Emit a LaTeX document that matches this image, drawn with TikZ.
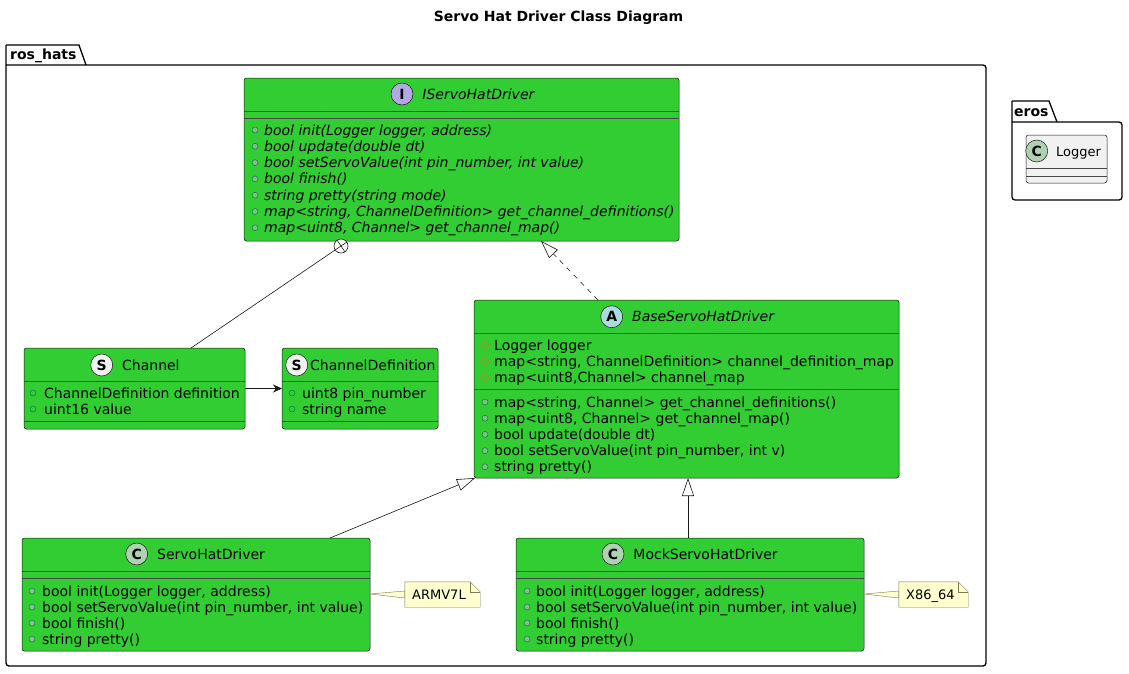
\documentclass[tikz,border=0pt]{standalone}
\usepackage{fontspec}
\setmainfont{DejaVu Sans}
\usetikzlibrary{arrows.meta,shapes.geometric,positioning}

\definecolor{umlgreen}{HTML}{32CD32}
\definecolor{umlline}{HTML}{181818}
\definecolor{loggerfill}{HTML}{F1F1F1}
\definecolor{publine}{HTML}{038048}
\definecolor{pubfill}{HTML}{84BE84}
\definecolor{protline}{HTML}{B38D22}
\definecolor{iconI}{HTML}{B4A7E5}
\definecolor{iconA}{HTML}{A9DCDF}
\definecolor{iconS}{HTML}{F1F1F1}
\definecolor{iconC}{HTML}{ADD1B2}
\definecolor{notefill}{HTML}{FEFECE}
\definecolor{notedraw}{HTML}{7A7A55}

\newcommand{\umlfont}{\fontsize{14}{16}\selectfont}
\newcommand{\notefont}{\fontsize{13}{15}\selectfont}

\begin{document}
\begin{tikzpicture}[x=1pt,y=-1pt,
	classbox/.style={draw=umlline, fill=umlgreen, rounded corners=2.5pt, line width=0.5pt, inner sep=0pt, outer sep=0pt},
	hdr/.style={inner sep=0pt, anchor=west, text height=10pt, text depth=0pt, font=\umlfont},
	mbr/.style={inner sep=0pt, anchor=west, text height=10pt, text depth=0pt, font=\umlfont},
	icon/.style={circle, draw=umlline, line width=0.5pt, minimum size=22pt, inner sep=0pt, font=\umlfont\bfseries},
	pubf/.style={circle, draw=publine, minimum size=6pt, inner sep=0pt, line width=0.5pt},
	pubm/.style={pubf, fill=pubfill},
	protf/.style={diamond, draw=protline, minimum size=9pt, inner sep=0pt, line width=0.6pt},
	sepline/.style={draw=umlline!80, line width=0.45pt},
	pkg/.style={draw=black, line width=1.3pt},
	pkglbl/.style={inner sep=0pt, anchor=west, text height=10pt, text depth=0pt, font=\umlfont\bfseries},
	inherit/.style={umlline, line width=0.6pt, -{Triangle[open, fill=white, length=18pt, width=12pt]}},
	realize/.style={inherit, dash pattern=on 5pt off 5pt},
	navig/.style={umlline, line width=0.6pt, -{Stealth[length=9pt, width=8pt, inset=3pt]}},
	nest/.style={circle, draw=umlline, fill=white, line width=0.6pt, minimum size=14pt, inner sep=0pt},
	notebox/.style={inner sep=0pt, minimum width=#1, minimum height=25pt},
	notelink/.style={draw=notedraw, fill=notefill, line width=0.4pt}]

	\fill[white] (0,0) rectangle (1129,673);
	\useasboundingbox (0,0) rectangle (1129,673);

	\node[inner sep=0pt] (title) at (558.5,18) {\fontsize{14}{16}\selectfont\bfseries Servo Hat Driver Class Diagram};

	% packages
	\draw[pkg] (6,45) -- (79,45) -- (86,65);
	\draw[pkg, rounded corners=3pt] (6,45) -- (6,666) -- (986,666) -- (986,65) -- (6,65);
	\node[pkglbl] (roslbl) at (10,54) {ros\_hats};
	\draw[pkg] (1012,101) -- (1049,101) -- (1057,122);
	\draw[pkg, rounded corners=3pt] (1012,101) -- (1012,200) -- (1122,200) -- (1122,122) -- (1012,122);
	\node[pkglbl] (eroslbl) at (1014,111) {eros};

	% IServoHatDriver
	\node[classbox, minimum width=435pt, minimum height=163pt] (isd) at (461.5,159.5) {};
	\node[icon, fill=iconI] (isdicon) at (402,94) {I};
	\node[hdr, font=\umlfont\itshape, right=9pt of isdicon] (isdname) {IServoHatDriver};
	\draw[sepline] (isd.west |- 0,111) -- (isd.east |- 0,111);
	\draw[sepline] (isd.west |- 0,118) -- (isd.east |- 0,118);
	\foreach \m [count=\k from 0] in {{bool init(Logger logger, address)},{bool update(double dt)},{bool setServoValue(int pin\_number, int value)},{bool finish()},{string pretty(string mode)},{map<string, ChannelDefinition> get\_channel\_definitions()},{map<uint8, Channel> get\_channel\_map()}}{
		\node[pubm] (isdv\k) at (255,130+16.3*\k) {};
		\node[mbr, font=\umlfont\itshape] (isdm\k) at (264,130+16.3*\k) {\m};
	}

	% Channel
	\node[classbox, minimum width=221pt, minimum height=81pt] (chan) at (134.5,388.5) {};
	\node[icon, fill=iconS] (chanicon) at (101.7,365) {S};
	\node[hdr, right=9pt of chanicon] (channame) {Channel};
	\draw[sepline] (chan.west |- 0,381) -- (chan.east |- 0,381);
	\draw[sepline] (chan.west |- 0,421) -- (chan.east |- 0,421);
	\foreach \m [count=\k from 0] in {{ChannelDefinition definition},{uint16 value}}{
		\node[pubf] (chanv\k) at (33,393+16*\k) {};
		\node[mbr] (chanf\k) at (44,393+16*\k) {\m};
	}

	% ChannelDefinition
	\node[classbox, minimum width=156pt, minimum height=81pt] (chdef) at (360,388.5) {};
	\node[icon, fill=iconS] (chdeficon) at (296.7,365) {S};
	\node[hdr, right=2pt of chdeficon] (chdefname) {ChannelDefinition};
	\draw[sepline] (chdef.west |- 0,381) -- (chdef.east |- 0,381);
	\draw[sepline] (chdef.west |- 0,421) -- (chdef.east |- 0,421);
	\foreach \m [count=\k from 0] in {{uint8 pin\_number},{string name}}{
		\node[pubf] (chdefv\k) at (292,393+16*\k) {};
		\node[mbr] (chdeff\k) at (302,393+16*\k) {\m};
	}

	% BaseServoHatDriver
	\node[classbox, minimum width=425pt, minimum height=178pt] (base) at (686.5,389) {};
	\node[icon, fill=iconA] (baseicon) at (611.7,316.7) {A};
	\node[hdr, font=\umlfont\itshape, right=9pt of baseicon] (basename) {BaseServoHatDriver};
	\draw[sepline] (base.west |- 0,333) -- (base.east |- 0,333);
	\draw[sepline] (base.west |- 0,389) -- (base.east |- 0,389);
	\foreach \m [count=\k from 0] in {{Logger logger},{map<string, ChannelDefinition> channel\_definition\_map},{map<uint8,Channel> channel\_map}}{
		\node[protf] (basev\k) at (485,345+16*\k) {};
		\node[mbr] (basef\k) at (494,345+16*\k) {\m};
	}
	\foreach \m [count=\k from 0] in {{map<string, Channel> get\_channel\_definitions()},{map<uint8, Channel> get\_channel\_map()},{bool update(double dt)},{bool setServoValue(int pin\_number, int v)},{string pretty()}}{
		\node[pubm] (basew\k) at (485,402+16.2*\k) {};
		\node[mbr] (basem\k) at (494,402+16.2*\k) {\m};
	}

	% ServoHatDriver and MockServoHatDriver
	\node[classbox, minimum width=348pt, minimum height=113pt] (shd) at (196,594.5) {};
	\node[icon, fill=iconC] (shdicon) at (136.7,554) {C};
	\node[hdr, right=9pt of shdicon] (shdname) {ServoHatDriver};
	\node[classbox, minimum width=348pt, minimum height=113pt] (mock) at (690,594.5) {};
	\node[icon, fill=iconC] (mockicon) at (613,554) {C};
	\node[hdr, right=9pt of mockicon] (mockname) {MockServoHatDriver};
	\foreach \cn/\vx/\tx in {shd/32/42, mock/527/536}{
		\draw[sepline] (\cn.west |- 0,571) -- (\cn.east |- 0,571);
		\draw[sepline] (\cn.west |- 0,578) -- (\cn.east |- 0,578);
		\foreach \m [count=\k from 0] in {{bool init(Logger logger, address)},{bool setServoValue(int pin\_number, int value)},{bool finish()},{string pretty()}}{
			\node[pubm] (\cn v\k) at (\vx,591+16*\k) {};
			\node[mbr] (\cn m\k) at (\tx,591+16*\k) {\m};
		}
	}

	% Logger
	\node[classbox, fill=loggerfill, minimum width=81pt, minimum height=48pt] (logger) at (1066.5,159) {};
	\node[icon, fill=iconC] (loggericon) at (1036.7,151) {C};
	\node[hdr, font=\notefont, right=8pt of loggericon] (loggername) {Logger};
	\draw[sepline] (logger.west |- 0,168) -- (logger.east |- 0,168);
	\draw[sepline] (logger.west |- 0,176) -- (logger.east |- 0,176);

	% notes
	\node[notebox=75pt] (armnote) at (442.5,594.5) {};
	\node[notebox=69pt] (x86note) at (933.5,594.5) {};
	\coordinate (shdnote) at (370,594);
	\coordinate (mocknote) at (864,594);
	\draw[notelink] (shdnote) -- ([yshift=3.5pt]armnote.west) -- ([yshift=-3.5pt]armnote.west) -- cycle;
	\draw[notelink] (mocknote) -- ([yshift=3.5pt]x86note.west) -- ([yshift=-3.5pt]x86note.west) -- cycle;
	\foreach \nn in {armnote, x86note}{
		\draw[notelink] (\nn.south west) -- (\nn.north west) -- ([xshift=-10pt]\nn.north east) -- ([yshift=-10pt]\nn.north east) -- (\nn.south east) -- cycle;
		\draw[notelink, fill=none] ([xshift=-10pt]\nn.north east) -- ([xshift=-10pt,yshift=-10pt]\nn.north east) -- ([yshift=-10pt]\nn.north east);
	}
	\node[hdr, font=\notefont] (armtxt) at (412,594.5) {ARMV7L};
	\node[hdr, font=\notefont] (x86txt) at (906,594.5) {X86\_64};

	% connectors
	\node[nest] (nestc) at (341,246) {};
	\coordinate (chtop) at (191,348);
	\draw[umlline, line width=0.6pt] (chtop) -- (nestc);
	\draw[umlline, line width=0.6pt] (nestc.34) -- (nestc.214) (nestc.124) -- (nestc.304);
	\draw[navig] (chan) -- (chdef);
	\coordinate (btop) at (598,300);
	\coordinate (isdtip) at (541,241);
	\draw[realize] (btop) -- (isdtip);
	\coordinate (shdtop) at (330,538);
	\coordinate (basetipl) at (475,478);
	\draw[inherit] (shdtop) -- (basetipl);
	\coordinate (mocktop) at (688,538);
	\coordinate (basetipb) at (688,478);
	\draw[inherit] (mocktop) -- (basetipb);
\end{tikzpicture}
\end{document}
